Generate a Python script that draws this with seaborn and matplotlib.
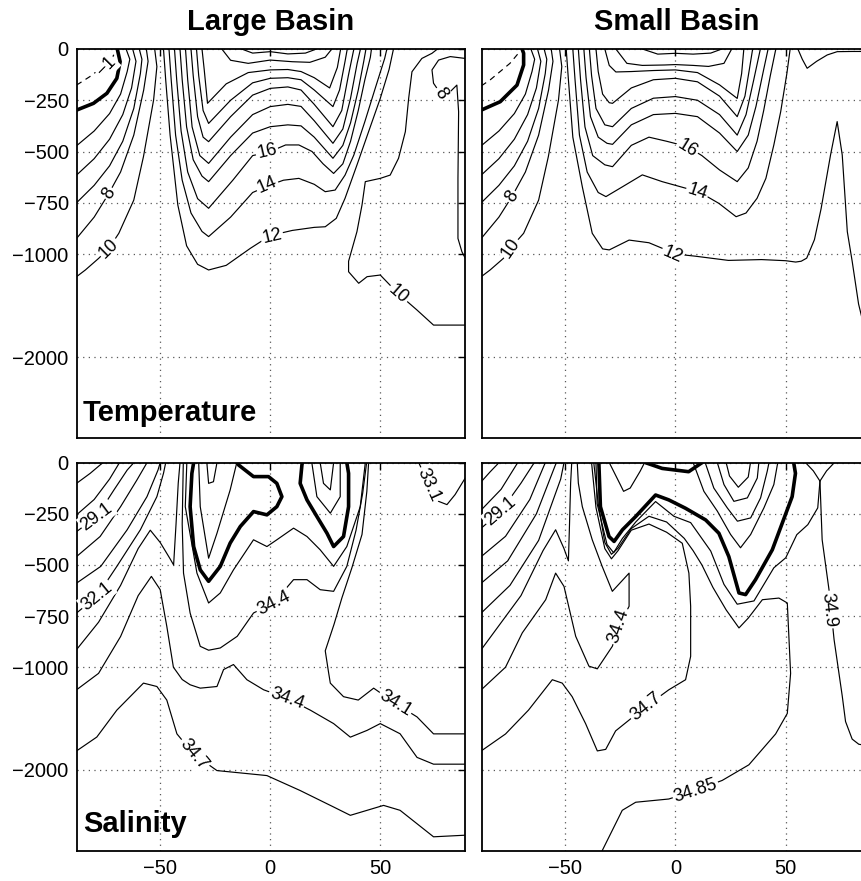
import numpy as np
import matplotlib
matplotlib.use("Agg")
import matplotlib.pyplot as plt
import seaborn as sns

sns.set_theme(style="white")
plt.rcParams["font.family"] = ["Liberation Sans", "DejaVu Sans"]
plt.rcParams["text.color"] = "black"
plt.rcParams["xtick.color"] = "black"
plt.rcParams["ytick.color"] = "black"

# ---------------------------------------------------------------- axes
LAT_LIMITS = (-87.8, 88.5)
DEPTH_LIMITS = (-3000, 0)
LAT_TICKS = [-50, 0, 50]
DEPTH_TICKS = [0, -250, -500, -750, -1000, -2000]

# ------------------------------------------- large basin, temperature (degC)
lt_levels = [-1, 0, 2, 4, 6, 8, 10, 12, 14, 16, 18, 20, 22, 24, 26, 27, 28, 10, 8]
lt_lat = [
    [-88, -82, -76, -71.5, -70.5],
    [-88, -80.3, -74.2, -69.7, -68.2, -69.5],
    [-88, -80, -73, -68, -65, -63.8, -65.5],
    [-88, -80, -73, -67, -63, -61, -62.5],
    [-88, -80, -73, -67, -62, -59, -58.3, -59.5],
    [-88, -80, -73.3, -68, -62, -57.5, -55.5, -56.3],
    [-88, -84, -78, -73.3, -68.8, -62, -57.6, -53, -51.5, -52.5],
    [-48.5, -47.5, -45.5, -42, -38, -33, -28, -20, -9, 0, 10, 20, 25, 30, 34, 39.4, 44.7, 50, 54, 56],
    [-46, -45, -43, -40, -36, -31, -28, -18, -8, 0, 6, 13, 20, 25, 29.5, 34, 38, 43, 47.7, 52, 53],
    [-43.5, -42.5, -40.5, -37.5, -33, -28, -17, -8, 0, 7, 13, 19, 24, 28.8, 33, 36.5, 40, 43, 45.5, 46],
    [-41, -40, -38, -35, -31, -28, -18, -8, 0, 8, 14, 20, 28.5, 33, 36.5, 40, 42.5, 43.5],
    [-38.5, -37.5, -35.5, -32, -28, -18, -8, 0, 8, 14, 20, 28.5, 33, 36.5, 39.5, 41],
    [-36, -35, -33, -30.5, -28, -18, -8, 0, 8, 14, 20, 28.5, 32.5, 35.5, 38],
    [-33.5, -32.5, -30.5, -28, -18, -8, 0, 8, 14, 20, 28.5, 31.5, 34, 35],
    [-31, -30, -28.5, -20, -10, 0, 8, 14, 20, 27, 30.5, 32],
    [-22, -18, -10, 0, 10, 18, 25, 28],
    [-13, -8, 0, 8, 16, 21],
    [88.6, 74.2, 66.7, 58.3, 50, 44, 40.2, 35.6, 35.6, 39.4, 41.7, 43.2, 50, 54.5, 58.3, 61.4, 62.9, 64.4, 68.9, 73.5, 76],
    [88.6, 81.8, 76.5, 73.5, 74.2, 77.3, 81.8, 84.8, 85.6, 85.3, 85.3, 87.1, 88.6],
]
lt_depth = [
    [-176, -135, -86, -37, -15],
    [-298, -265, -216, -143, -62, 0],
    [-472, -400, -315, -220, -110, -50, 0],
    [-615, -535, -440, -320, -190, -60, 0],
    [-750, -665, -570, -450, -290, -120, -50, 0],
    [-924, -820, -704, -600, -420, -200, -60, 0],
    [-1220, -1155, -1043, -972, -899, -737, -525, -249, -86, 0],
    [0, -150, -420, -760, -960, -1100, -1155, -1110, -972, -910, -885, -870, -867, -826, -728, -566, -403, -241, -100, 0],
    [0, -150, -420, -640, -800, -890, -915, -820, -700, -663, -640, -631, -660, -696, -688, -615, -517, -354, -192, -46, 0],
    [0, -150, -400, -600, -730, -777, -640, -520, -500, -468, -468, -500, -560, -607, -560, -450, -300, -150, -40, 0],
    [0, -150, -380, -540, -620, -647, -520, -410, -379, -370, -375, -430, -533, -470, -360, -200, -60, 0],
    [0, -150, -380, -520, -558, -430, -320, -281, -270, -280, -350, -460, -390, -240, -70, 0],
    [0, -130, -330, -430, -452, -330, -225, -192, -185, -200, -270, -379, -300, -130, 0],
    [0, -130, -300, -363, -250, -165, -143, -140, -150, -200, -281, -200, -60, 0],
    [0, -100, -265, -170, -115, -102, -100, -110, -140, -190, -90, 0],
    [0, -55, -70, -54, -62, -65, -40, 0],
    [0, -20, -13, -24, -20, 0],
    [-1690, -1690, -1544, -1388, -1204, -1220, -1284, -1172, -1070, -891, -761, -647, -631, -615, -533, -403, -241, -111, -46, -21, 0],
    [-46, -37, -54, -102, -167, -216, -208, -176, -306, -631, -924, -989, -1040],
]
lt_labels = [(-1, -74.5, -86), (8, -73.3, -704), (10, -73.3, -972), (16, -1.5, -500),
             (14, -1.5, -663), (12, 0.8, -915), (8, 77.3, -216), (10, 58.3, -1388)]

# ------------------------------------------- small basin, temperature (degC)
st_levels = [-1, 0, 2, 4, 6, 8, 10, 12, 14, 16, 18, 20, 22, 24, 26, 28, 13]
st_lat = [
    [-88, -84, -75, -71.5],
    [-88, -79.4, -71.8, -68.8, -68.8, -69.5],
    [-88, -80, -73, -68, -65, -63.8, -65.5],
    [-88, -80, -73, -67, -63, -61, -62.5],
    [-88, -80, -73, -67, -62, -59, -58.3, -59.5],
    [-88, -80, -74.1, -68, -62, -57.5, -55.5, -56.3],
    [-88, -84, -78, -74.8, -68.8, -62, -57.6, -53, -51.5, -52.5],
    [-49.5, -48.5, -46.5, -42.2, -37.7, -33, -30, -21, -12, -6, 0, 9, 24, 39, 50, 54.5, 57, 59.5, 63, 66,
     70.3, 73.3, 75.6, 77.9, 80.1, 83, 86],
    [-46.5, -45.5, -43.5, -40, -35, -31.5, -24, -15, -6, 5, 12, 19.7, 27.5, 32, 37, 41, 44.6, 47.7, 50.5, 52],
    [-44, -43, -41, -37.5, -32, -28.5, -20, -12, -4, 5.4, 12, 20, 28, 33, 37, 40, 43, 45.5],
    [-41.5, -40.5, -38.5, -35, -31, -28.5, -20, -10, 0, 10, 20, 28, 33, 36.5, 40, 42],
    [-39, -38, -36, -32, -28.5, -20, -10, 0, 10, 20, 28, 32, 35.5, 38.5],
    [-36, -35, -33, -30, -28.5, -20, -10, 0, 10, 20, 28, 31.5, 33.5, 35],
    [-32, -30, -27, -20, -10, 0, 10, 20, 28, 30, 31],
    [-27, -22, -15, -5, 0, 8, 15, 22, 25.5],
    [-15, -8, 0, 8, 16, 21],
    [55.5, 57.5, 59.7, 64, 68.8, 73.3, 80, 86],
]
st_depth = [
    [-180, -151, -70, -25],
    [-298, -257, -176, -78, -21, 0],
    [-472, -400, -315, -220, -110, -50, 0],
    [-615, -535, -440, -320, -190, -60, 0],
    [-750, -665, -570, -450, -290, -120, -50, 0],
    [-924, -820, -720, -600, -420, -200, -60, 0],
    [-1220, -1155, -1043, -972, -899, -737, -525, -249, -86, 0],
    [0, -150, -430, -672, -899, -975, -980, -932, -945, -972, -1000, -1021, -1062, -1054, -1065, -1078,
     -1070, -1040, -930, -780, -517, -354, -517, -891, -1070, -1485, -1750],
    [0, -150, -420, -600, -700, -720, -672, -614, -647, -680, -705, -753, -818, -800, -728, -631, -468, -306, -120, 0],
    [0, -150, -380, -520, -565, -574, -470, -430, -450, -476, -520, -590, -647, -580, -450, -300, -130, 0],
    [0, -140, -330, -430, -460, -465, -370, -320, -314, -330, -410, -500, -420, -280, -100, 0],
    [0, -130, -290, -370, -379, -290, -240, -232, -250, -320, -420, -320, -150, 0],
    [0, -110, -220, -262, -265, -190, -150, -143, -160, -230, -330, -230, -100, 0],
    [0, -80, -112, -110, -105, -102, -115, -175, -241, -120, 0],
    [0, -70, -80, -78, -76, -80, -85, -70, 0],
    [0, -25, -21, -25, -20, 0],
    [0, -50, -94, -60, -29, -13, -12, -12],
]
st_labels = [(8, -74.1, -720), (10, -74.8, -972), (16, 5.4, -485), (14, 9.9, -696), (12, -1.4, -1005)]

# ------------------------------------------------- large basin, salinity (psu)
ls_levels = [27.1, 28.1, 29.1, 30.1, 31.1, 32.1, 33.1, 34.4, 34.7, 34.1, 33.1,
             35.1, 35.1, 35.6, 36.1, 35.6, 36.1, 34.85, 34.4]
ls_lat = [
    [-88, -81.8, -77.3, -76],
    [-88, -80, -73, -68.5],
    [-88, -78.8, -71, -65, -62],
    [-88, -77.3, -68, -60.6, -56],
    [-88, -77, -65, -56, -51, -50],
    [-88, -78.8, -69.7, -59, -51.5, -48.5, -47.5],
    [-88, -78, -68, -60, -54.5, -50, -45.5, -43.9, -42.8, -41.8, -41],
    [-88, -78, -68, -60, -54, -50, -47, -44, -40, -36.4, -31.8, -24.2, -21.2, -16.7, -10.6, -3, 7.6, 18.2,
     28.8, 36.4, 44, 50, 59, 66.7, 74.2, 88.6],
    [-88, -78.8, -69.7, -57.6, -51.5, -47, -42.4, -34.8, -24.2, -1.5, 13.6, 28.8, 36.4, 51.5, 59, 74.2, 88.6],
    [88.6, 74.2, 66.7, 56.8, 47, 40, 33.3, 27.3, 26.5, 25, 29, 32.6, 37.1, 41.7, 43.9, 44.7],
    [67.5, 72, 76.5, 80.3, 84, 88.6],
    [-34.8, -35.6, -36.4, -34.8, -31.8, -28, -22.7, -18.2, -13.6, -7.6, -1.5, 3, 5.3, 3, -0.8, -7.6, -14.4, -14.8],
    [14.6, 14.4, 13.6, 16.7, 21.2, 25.8, 28.8, 33.3, 35.6, 35.6, 34.8],
    [-32.5, -31.8, -28, -24.2, -18.2, -15.2],
    [-28.8, -28, -25.8, -24.2],
    [18.9, 21.2, 27.3, 31.8, 31.8],
    [22.7, 24.2, 27.3, 28.8],
    [-37.9, -38.6, -33.3, -28, -22.7, -16.7, -7.6, -1.5, 3, 10.6, 16.7, 22.7, 28.8, 34.8, 40.9, 43.2],
    [-39.5, -40, -39.4, -36.4, -31.8, -28, -22.7, -15, -7.6, 1.5, 10.6, 16.7, 22.7, 28.8, 34.8, 39, 42, 43.8],
]
ls_depth = [
    [-101, -52, -11, 0],
    [-255, -180, -80, 0],
    [-337, -263, -133, -36, 0],
    [-459, -361, -215, -85, 0],
    [-589, -507, -328, -166, -36, 0],
    [-735, -654, -507, -328, -166, -52, 0],
    [-914, -780, -600, -420, -330, -390, -470, -500, -300, -100, 0],
    [-1220, -1060, -850, -650, -556, -621, -800, -1000, -1120, -1171, -1204, -1188, -1023, -987, -1122, -1220,
     -1302, -1418, -1549, -1681, -1615, -1549, -1648, -1878, -1944, -1944],
    [-1815, -1680, -1418, -1155, -1188, -1320, -1649, -1846, -2008, -2070, -2255, -2459, -2562, -2439, -2500,
     -2828, -2808],
    [-1649, -1649, -1484, -1352, -1204, -1320, -1287, -1155, -1050, -920, -790, -660, -514, -351, -140, 0],
    [0, -107, -189, -205, -156, -75],
    [0, -52, -215, -410, -524, -580, -507, -393, -312, -239, -255, -215, -166, -101, -68, -68, -11, 0],
    [0, -11, -101, -182, -263, -345, -410, -361, -215, -52, 0],
    [0, -215, -467, -345, -133, 0],
    [0, -101, -93, 0],
    [0, -166, -247, -166, 0],
    [0, -101, -133, 0],
    [0, -215, -540, -686, -637, -524, -377, -410, -377, -320, -361, -426, -507, -410, -215, 0],
    [0, -300, -540, -735, -898, -917, -906, -849, -735, -686, -572, -572, -621, -629, -507, -330, -150, 0],
]
ls_labels = [(29.1, -78.8, -263), (32.1, -78.8, -654), (34.4, 1.5, -686), (34.4, 7.6, -1302),
             (34.7, -34.8, -1846), (34.1, 56.8, -1352), (33.1, 72, -107)]

# ------------------------------------------------- small basin, salinity (psu)
ss_levels = [27.1, 28.1, 29.1, 30.1, 31.1, 32.1, 33.1, 34.4, 34.7, 35.1, 35.1, 35.6, 35.6, 36.1, 36.6,
             37.1, 35.0, 34.85, 34.9, 34.95]
ss_lat = [
    [-88, -84, -80],
    [-88, -79, -71.5],
    [-88, -79.2, -70, -64],
    [-88, -77, -66, -59],
    [-88, -76, -63, -54],
    [-88, -75, -62, -52, -50.5],
    [-88, -70, -60, -54.3, -50.5, -48.5, -48, -47.5, -47],
    [-88, -77, -69.4, -58.8, -54.3, -50.5, -45.2, -39.2, -35.4, -28.6, -25.6, -21, -21, -28.6, -33.2, -37.7,
     -42.2, -44, -44.5],
    [-88, -77, -66.6, -55.8, -51.3, -46.8, -40.7, -35.4, -31.6, -27.1, -13.5, -3, 4.6, 6.9, 6.9, 6.1, 3.1, -4,
     -12, -20, -26, -29, -32, -36, -38],
    [-34.7, -34, -30.1, -27.8, -24, -18, -9, -3, 4.6, 13.7, 19.7, 24.2, 28.8, 31.8, 36.3, 43.9, 48.4, 52.9,
     54.4, 53.6],
    [-13.5, -6, 6, 12],
    [-30, -29.5, -25, -23.5, -20.5, -16, -14],
    [8, 8.4, 12.9, 19, 25, 29.5, 34.1, 40.1, 44.6, 46.2, 46.5],
    [13.5, 17.4, 23.5, 28.1, 34.1, 38.6, 41.6, 42.4],
    [19, 22, 26.5, 32.6, 37.1, 37.8],
    [23, 24.5, 28.5, 33, 34],
    [-36, -35.5, -31, -28, -24, -18, -9, -0.7, 6.9, 16, 22, 28, 35.6, 44.6, 50, 55, 60, 64.5, 65.5, 62.5, 59],
    [-33.2, -24.1, -18, -3, 9.1, 21.2, 33.3, 45.4, 50.7, 52.2, 50.7, 46.9, 39.4, 33, 28.8, 23, 17, 12, 8, 4,
     -4, -12, -20, -26, -29, -32, -35, -37],
    [65.5, 66.5, 69.6, 71.9, 75.6, 77.1, 80.1, 83.1, 86],
    [72, 68.5, 65.5],
]
ss_depth = [
    [-93, -45, 0],
    [-231, -130, 0],
    [-320, -239, -100, 0],
    [-459, -360, -180, 0],
    [-589, -480, -250, 0],
    [-735, -600, -380, -80, 0],
    [-914, -650, -430, -328, -420, -480, -300, -100, 0],
    [-1220, -1000, -832, -670, -540, -605, -849, -995, -1016, -898, -800, -702, -540, -629, -507, -377, -215,
     -100, 0],
    [-1815, -1650, -1418, -1122, -1155, -1287, -1550, -1815, -1800, -1620, -1385, -1220, -1122, -947, -702,
     -540, -394, -340, -300, -330, -430, -470, -420, -220, 0],
    [0, -215, -361, -385, -328, -263, -158, -182, -223, -280, -345, -459, -637, -645, -572, -426, -296, -166,
     -52, 0],
    [0, -28, -44, 0],
    [0, -10, -107, -140, -124, -42, 0],
    [0, -10, -140, -237, -351, -416, -351, -221, -107, -10, 0],
    [0, -124, -221, -286, -270, -172, -42, 0],
    [0, -107, -189, -172, -75, 0],
    [0, -65, -120, -70, 0],
    [0, -200, -400, -440, -370, -290, -190, -262, -293, -432, -595, -692, -676, -514, -465, -352, -303, -221,
     -90, -40, 0],
    [-3000, -2500, -2400, -2360, -2254, -2130, -1950, -1650, -1450, -1060, -686, -662, -670, -760, -808, -720,
     -610, -500, -430, -370, -290, -262, -322, -418, -448, -390, -200, 0],
    [-90, -377, -621, -865, -1280, -1529, -1700, -1750, -1760],
    [0, -40, -90],
]
ss_labels = [(29.1, -79.2, -239), (34.4, -25.6, -800), (34.7, -13.5, -1385), (34.85, 9.1, -2254),
             (34.9, 69.6, -719)]


# ------------------------------------------------------ depth axis stretch
def depth_forward(d):
    d = np.asarray(d, dtype=float)
    return np.where(d >= -1000, d,
                    np.where(d >= -2000, -1000 + (d + 1000) * 0.5024,
                             -1502.4 + (d + 2000) * 0.395))


def depth_inverse(y):
    y = np.asarray(y, dtype=float)
    return np.where(y >= -1000, y,
                    np.where(y >= -1502.4, -1000 + (y + 1000) / 0.5024,
                             -2000 + (y + 1502.4) / 0.395))


def fmt_level(v):
    return f"{v:g}".replace("-", "\u2212")


def setup_axes(ax, show_x, show_y):
    ax.set_yscale("function", functions=(depth_forward, depth_inverse))
    ax.set_xlim(*LAT_LIMITS)
    ax.set_ylim(*DEPTH_LIMITS)
    ax.set_xticks(LAT_TICKS)
    ax.set_yticks(DEPTH_TICKS)
    ax.set_xticklabels([fmt_level(v) for v in LAT_TICKS] if show_x else [])
    ax.set_yticklabels([fmt_level(v) for v in DEPTH_TICKS] if show_y else [])
    ax.grid(True, linestyle=(0, (1, 3.5)), color="0.35", linewidth=0.9)
    ax.tick_params(direction="in", length=5, width=1, labelsize=14.5, colors="black",
                   top=True, right=True, pad=6)
    for s in ax.spines.values():
        s.set_color("black")
        s.set_linewidth(1.3)
    ax.set_xlabel("")
    ax.set_ylabel("")


def draw_lines(ax, levels, lats, depths, thick, dashed_below=None):
    for lev, la, de in zip(levels, lats, depths):
        kw = dict(color="black", linewidth=0.85)
        if lev == thick:
            kw["linewidth"] = 2.6
        if dashed_below is not None and lev < dashed_below:
            kw["linestyle"] = (0, (5, 4))
        sns.lineplot(x=la, y=de, sort=False, estimator=None, ax=ax, **kw)


def draw_labels(ax, levels, lats, depths, labels):
    for lev, x0, y0 in labels:
        p = ax.transData.transform((x0, y0))
        best = None
        for lv, la, de in zip(levels, lats, depths):
            if lv != lev:
                continue
            pts = ax.transData.transform(np.column_stack([la, de]))
            for i in range(len(pts) - 1):
                a, b = pts[i], pts[i + 1]
                ab = b - a
                t = np.clip(np.dot(p - a, ab) / max(np.dot(ab, ab), 1e-9), 0, 1)
                dist = np.linalg.norm(a + t * ab - p)
                if best is None or dist < best[0]:
                    best = (dist, ab)
        ang = np.degrees(np.arctan2(best[1][1], best[1][0]))
        if ang > 90:
            ang -= 180
        if ang < -90:
            ang += 180
        ax.text(x0, y0, fmt_level(lev), rotation=ang, rotation_mode="anchor",
                ha="center", va="center", fontsize=13, color="black", zorder=5,
                bbox=dict(boxstyle="square,pad=0.08", fc="white", ec="none"))


fig = plt.figure(figsize=(8.61, 8.81), dpi=100)
W, H = 861.0, 881.0
ax_lt = fig.add_axes([77 / W, 1 - 438 / H, 388 / W, 389 / H])
ax_st = fig.add_axes([481.7 / W, 1 - 438 / H, 389 / W, 389 / H])
ax_ls = fig.add_axes([77 / W, 1 - 850.7 / H, 388 / W, 388 / H])
ax_ss = fig.add_axes([481.7 / W, 1 - 850.7 / H, 389 / W, 388 / H])

panels = [
    (ax_lt, lt_levels, lt_lat, lt_depth, lt_labels, 0, 0, False, True),
    (ax_st, st_levels, st_lat, st_depth, st_labels, 0, 0, False, False),
    (ax_ls, ls_levels, ls_lat, ls_depth, ls_labels, 35.1, None, True, True),
    (ax_ss, ss_levels, ss_lat, ss_depth, ss_labels, 35.1, None, True, False),
]
for ax, lev, la, de, lab, thick, dash, sx, sy in panels:
    draw_lines(ax, lev, la, de, thick, dash)
    setup_axes(ax, sx, sy)
    draw_labels(ax, lev, la, de, lab)

fig.text(271 / W, 1 - 22 / H, "Large Basin", ha="center", va="center",
         fontsize=21, fontweight="bold", color="black")
fig.text(676.5 / W, 1 - 22 / H, "Small Basin", ha="center", va="center",
         fontsize=21, fontweight="bold", color="black")
ax_lt.text(0.015, 0.044, "Temperature", transform=ax_lt.transAxes, ha="left",
           va="baseline", fontsize=21, fontweight="bold", color="black")
ax_ls.text(0.015, 0.049, "Salinity", transform=ax_ls.transAxes, ha="left",
           va="baseline", fontsize=21, fontweight="bold", color="black")

fig.savefig("out.png", dpi=100)
